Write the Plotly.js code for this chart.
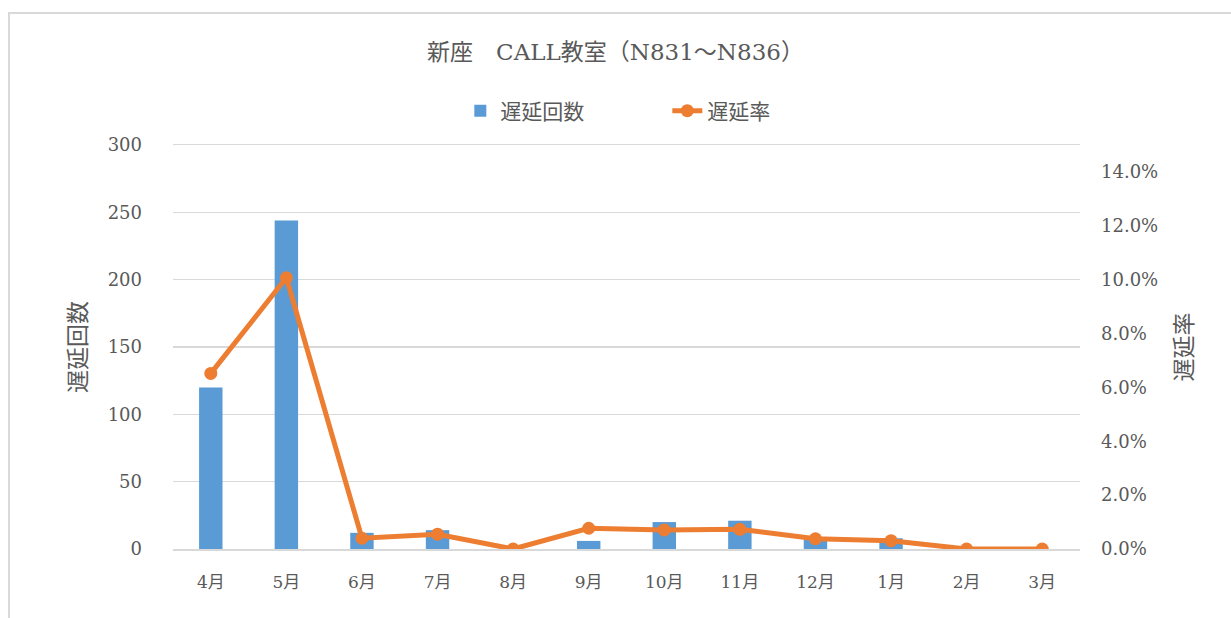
<!DOCTYPE html>
<html><head><meta charset="utf-8">
<script src="https://cdn.plot.ly/plotly-3.0.1.min.js"></script>
<style>
html,body{margin:0;padding:0;background:#fff;}
#frame{position:absolute;left:8px;top:12px;width:1240px;height:640px;border-left:2px solid #d9d9d9;border-top:2px solid #d9d9d9;}
#chart{position:absolute;left:0;top:0;width:1231px;height:618px;}
</style></head>
<body>
<div id="frame"></div>
<div id="chart"></div>
<script>
const months = ['4月','5月','6月','7月','8月','9月','10月','11月','12月','1月','2月','3月'];
const delayCount = [120, 244, 12, 14, 0, 6, 20, 21, 8, 8, 0, 0];
const delayRate = [0.0652, 0.1007, 0.0040, 0.0055, 0.0, 0.0077, 0.0071, 0.0073, 0.0038, 0.0031, 0.0, 0.0];

const fontFam = '"DejaVu Serif", "Noto Sans CJK JP", serif';
const txt = '#595959';
const grid = '#d9d9d9';

const traces = [
  {type:'bar', x:months, y:delayCount, name:'遅延回数', marker:{color:'#5B9BD5'}, yaxis:'y'},
  {type:'scatter', mode:'lines+markers', x:months, y:delayRate, name:'遅延率', yaxis:'y2',
   line:{color:'#ED7D31', width:5}, marker:{color:'#ED7D31', size:13}}
];

const layout = {
  width:1231, height:618,
  paper_bgcolor:'rgba(0,0,0,0)', plot_bgcolor:'rgba(0,0,0,0)',
  margin:{l:173, r:151, t:145, b:69},
  font:{family:fontFam, color:txt, size:16},
  title:{text:'新座　CALL教室（N831～N836）', font:{family:fontFam, size:23, color:txt},
         xref:'container', x:0.5, xanchor:'center', yref:'container', y:1-52/618, yanchor:'middle'},
  showlegend:true,
  legend:{orientation:'h', x:0.545, xanchor:'center', y:(549-111)/404, yref:'paper', yanchor:'middle',
          entrywidth:162, font:{family:fontFam, size:21, color:txt}},
  bargap:0.69,
  xaxis:{type:'category', range:[-0.5, 11.5], showgrid:false, zeroline:false,
         showline:true, mirror:true, linecolor:grid, linewidth:1.5, ticks:'',
         tickfont:{family:fontFam, size:17, color:txt}, ticklabelstandoff:17},
  yaxis:{range:[0,300], dtick:50, showgrid:true, gridcolor:grid, gridwidth:1.5, zeroline:false,
         showline:false, ticks:'', tickfont:{family:fontFam, size:18, color:txt}, ticklabelstandoff:30,
         title:{text:'遅延回数', font:{family:fontFam, size:23, color:txt}, standoff:14}},
  yaxis2:{range:[0,0.15], dtick:0.02, tickformat:'.1%', overlaying:'y', side:'right', showgrid:false,
          zeroline:false, showline:false, ticks:'', tickfont:{family:fontFam, size:18, color:txt}, ticklabelstandoff:20,
          title:{text:'遅延率', font:{family:fontFam, size:23, color:txt}, standoff:18}}
};

Plotly.newPlot('chart', traces, layout, {displayModeBar:false, staticPlot:true});
</script>
</body></html>
